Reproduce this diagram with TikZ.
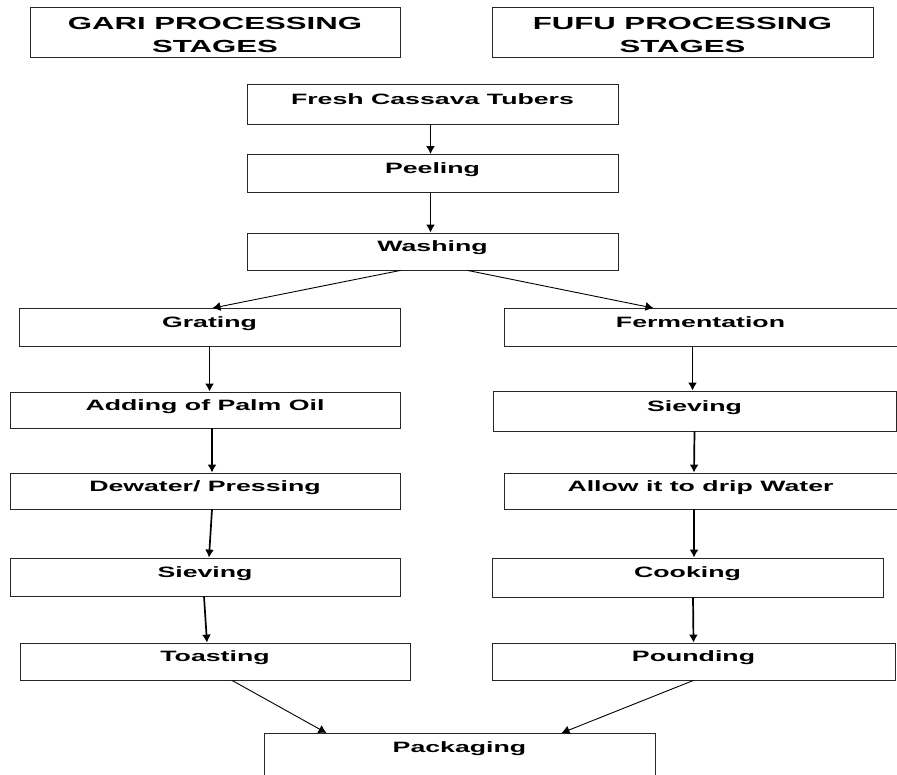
\documentclass[tikz,border=0pt]{standalone}
\usepackage{fontspec}
\setmainfont[FakeStretch=1.78]{Liberation Sans}
\usetikzlibrary{arrows.meta}

\tikzset{
  stage/.style={draw=black!85, line width=0.8pt, rectangle, minimum height=38pt,
    inner ysep=0pt, text height=11pt, text depth=11pt,
    font=\bfseries\fontsize{15}{18}\selectfont},
  heading/.style={draw=black!85, line width=0.8pt, rectangle, align=center,
    minimum height=50pt, inner ysep=0pt, text height=40pt, text depth=0pt,
    font=\bfseries\fontsize{17.5}{23}\selectfont},
  flow/.style={line width=1.7pt},
  branch/.style={line width=0.9pt}
}

\begin{document}
\begin{tikzpicture}[x=1pt, y=-1pt, >={Latex[length=8pt,width=9pt]}]
  \useasboundingbox (0,0) rectangle (897,774);
  \clip (0,0) rectangle (897,774);

  % Define blocks
  \node [heading, minimum width=370pt] (gari) at (215,32) {GARI PROCESSING\\STAGES};
  \node [heading, minimum width=381pt] (fufu) at (682.5,32) {FUFU PROCESSING\\STAGES};

  \node [stage, minimum width=371pt, minimum height=40pt] (fresh) at (432.5,104) {Fresh Cassava Tubers};
  \node [stage, minimum width=371pt] (peeling) at (432.5,173.5) {Peeling};
  \node [stage, minimum width=371pt, minimum height=37pt] (washing) at (432.5,251.5) {Washing};

  \node [stage, minimum width=381pt] (grating) at (209.5,327.5) {Grating};
  \node [stage, minimum width=390pt, minimum height=36pt] (adding) at (205,410) {Adding of Palm Oil};
  \node [stage, minimum width=390pt, minimum height=36pt] (dewater) at (205,491) {Dewater/ Pressing};
  \node [stage, minimum width=390pt] (sievegari) at (205,577) {Sieving};
  \node [stage, minimum width=390pt, minimum height=37pt] (toast) at (215,661.5) {Toasting};

  \node [stage, minimum width=393pt] (ferment) at (700.5,327.5) {Fermentation};
  \node [stage, minimum width=403pt, minimum height=40pt] (sievefufu) at (694.5,411) {Sieving};
  \node [stage, minimum width=393pt, minimum height=36pt] (drip) at (700.5,491) {Allow it to drip Water};
  \node [stage, minimum width=391pt, minimum height=39pt] (cook) at (687.5,577.5) {Cooking};
  \node [stage, minimum width=403pt, minimum height=37pt] (pound) at (693.5,661.5) {Pounding};

  \node [stage, anchor=north, minimum width=391pt, minimum height=44pt,
    text height=19pt, text depth=25pt] (pack) at (459.5,733) {Packaging};

  % Connect blocks with arrows
  \draw [->, flow] ([xshift=-2pt]fresh.south) -- ([xshift=-2pt]peeling.north);
  \draw [->, flow] ([xshift=-2pt]peeling.south) -- ([xshift=-2pt]washing.north);
  \draw [->, branch] ([xshift=-32pt]washing.south) -- ([xshift=3pt]grating.north);
  \draw [->, branch] ([xshift=35pt]washing.south) -- ([xshift=-47pt]ferment.north);

  \draw [->, flow] (grating.south) -- (grating.south |- adding.north);
  \draw [->, flow] ([xshift=7pt]adding.south) -- ([xshift=7pt]dewater.north);
  \draw [->, flow] ([xshift=7pt]dewater.south) -- ([xshift=4pt]sievegari.north);
  \draw [->, flow] ([xshift=-1pt]sievegari.south) -- ([xshift=-8pt]toast.north);
  \draw [->, branch] ([xshift=17pt]toast.south) -- ([xshift=-133pt]pack.north);

  \draw [->, flow] ([xshift=-8pt]ferment.south) -- ([xshift=-2pt]sievefufu.north);
  \draw [->, flow] (sievefufu.south) -- ([xshift=-6.5pt]drip.north);
  \draw [->, flow] ([xshift=-6.5pt]drip.south) -- ([xshift=6.5pt]cook.north);
  \draw [->, flow] ([xshift=5.5pt]cook.south) -- (pound.north);
  \draw [->, branch] (pound.south) -- ([xshift=102pt]pack.north);
\end{tikzpicture}
\end{document}
